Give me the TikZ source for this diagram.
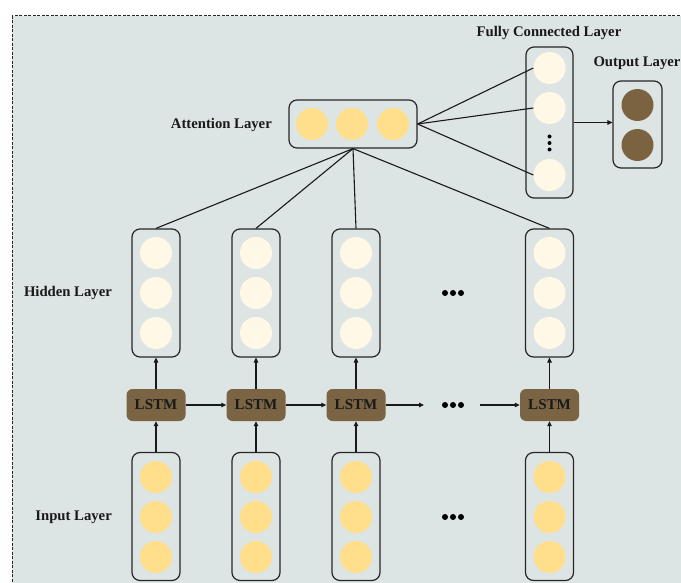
\documentclass[tikz,border=0pt]{standalone}
\usepackage{fontspec}
\setmainfont{Liberation Serif}
\usetikzlibrary{arrows.meta}
\definecolor{bgc}{HTML}{DDE4E4}
\definecolor{inc}{HTML}{FFDF8C}
\definecolor{hidc}{HTML}{FFF8E6}
\definecolor{brn}{HTML}{7A6443}
\definecolor{outc}{HTML}{7B6240}
\tikzset{
  colbox/.style={draw=black!85, line width=1.2pt, rounded corners=8pt, minimum width=48pt, minimum height=128pt, inner sep=0pt},
  neuron/.style={circle, minimum size=32pt, inner sep=0pt},
  inn/.style={neuron, fill=inc},
  hidn/.style={neuron, fill=hidc},
  outn/.style={neuron, fill=outc},
  lstmbox/.style={fill=brn, rounded corners=6pt, minimum width=59pt, minimum height=32pt, inner sep=0pt, font=\bfseries\fontsize{15}{17}\selectfont, text=black!90},
  lbl/.style={font=\bfseries\fontsize{14.7}{16}\selectfont, text=black!90, inner sep=0pt},
  dotn/.style={circle, fill=black, minimum size=6pt, inner sep=0pt},
  sdot/.style={circle, fill=black, minimum size=4pt, inner sep=0pt},
  conn/.style={line width=1.1pt, draw=black!90},
  arr/.style={conn, -{Triangle[length=5pt,width=4.5pt]}},
}
\begin{document}
\begin{tikzpicture}[x=1pt,y=-1pt]
\useasboundingbox (0,0) rectangle (681,583);
\begin{scope}
\clip (0,0) rectangle (681,583);
\fill[white] (0,0) rectangle (681,583);
\draw[fill=bgc, draw=black!85, line width=1pt, dash pattern=on 3pt off 1.5pt] (12,16) rectangle (700,600);
\end{scope}

% columns
\foreach \i/\x in {1/156,2/256,3/356,4/549.5}{
  \node[colbox] (in\i) at (\x,516.5) {};
  \node[inn] (in\i a) at (\x,477) {};
  \node[inn] (in\i b) at (\x,517) {};
  \node[inn] (in\i c) at (\x,557) {};
  \node[colbox] (hid\i) at (\x,293) {};
  \node[hidn] (hid\i a) at (\x,253) {};
  \node[hidn] (hid\i b) at (\x,293) {};
  \node[hidn] (hid\i c) at (\x,333) {};
  \node[lstmbox] (lstm\i) at (\x,405) {LSTM};
  \draw[arr] (in\i.north) -- (lstm\i.south);
  \draw[arr] (lstm\i.north) -- (hid\i.south);
}

% dots
\foreach \y/\n in {293/h,405/l,517/i}{
  \node[dotn] (d\n1) at (445,\y) {};
  \node[dotn] (d\n2) at (453,\y) {};
  \node[dotn] (d\n3) at (461,\y) {};
}
\coordinate (la) at (424,405);
\coordinate (lb) at (480,405);
\draw[arr] (lstm1.east) -- (lstm2.west);
\draw[arr] (lstm2.east) -- (lstm3.west);
\draw[arr] (lstm3.east) -- (la);
\draw[arr] (lb) -- (lstm4.west);

% attention layer
\node[colbox, minimum width=128pt, minimum height=48pt] (att) at (353,124) {};
\node[inn] (att1) at (312,124) {};
\node[inn] (att2) at (352,124) {};
\node[inn] (att3) at (393,124) {};
\node[lbl, anchor=east] (attl) at (272,125) {Attention Layer};

\foreach \i in {1,2,3,4}{
  \draw[conn] (att.south) -- (hid\i.north);
}

% fully connected
\node[colbox, minimum width=47pt, minimum height=151pt] (fc) at (549.5,122.5) {};
\node[hidn] (fc1) at (549.5,68) {};
\node[hidn] (fc2) at (549.5,108) {};
\node[hidn] (fc3) at (549.5,175) {};
\node[sdot] (fcd1) at (549.5,136.5) {};
\node[sdot] (fcd2) at (549.5,143) {};
\node[sdot] (fcd3) at (549.5,149.5) {};
\node[lbl] (fcl) at (549,33) {Fully Connected Layer};
\foreach \i in {1,2,3}{
  \draw[conn] (att.east) -- (fc\i.west);
}

% output
\node[colbox, minimum width=49pt, minimum height=87pt] (out) at (637.5,124.5) {};
\node[outn] (out1) at (637.5,105) {};
\node[outn] (out2) at (637.5,145) {};
\node[lbl] (outl) at (637,63) {Output Layer};
\draw[arr] (fc.east) -- (fc.east -| out.west);

% labels
\node[lbl, anchor=east] (hidl) at (112,293) {Hidden Layer};
\node[lbl, anchor=east] (inl) at (112,517) {Input Layer};
\end{tikzpicture}
\end{document}
